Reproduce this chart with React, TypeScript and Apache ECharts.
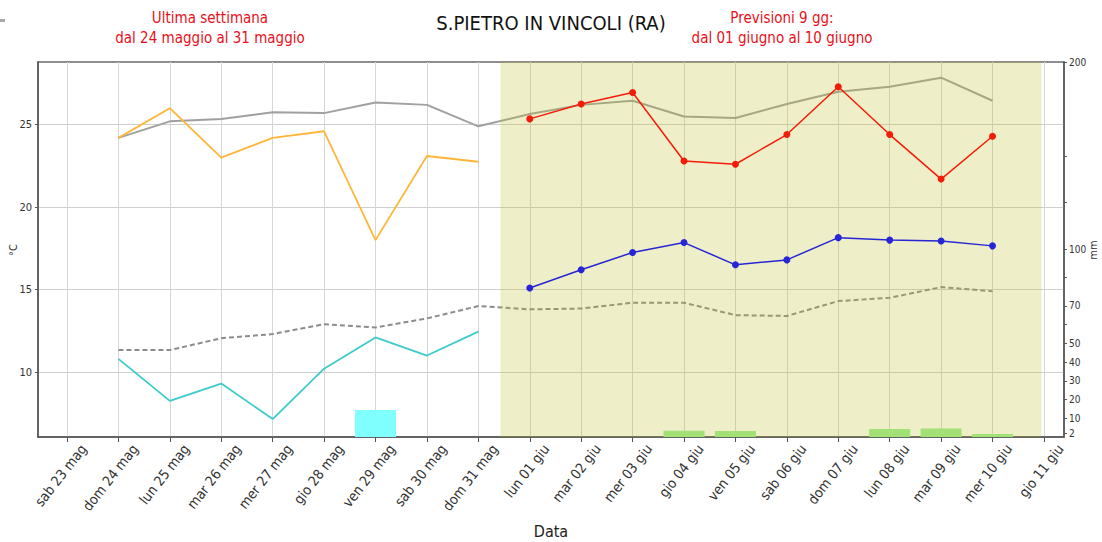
import React, { useEffect, useRef } from "react";
import * as echarts from "echarts";

const dayLabels = [
  "sab 23 mag", "dom 24 mag", "lun 25 mag", "mar 26 mag", "mer 27 mag", "gio 28 mag",
  "ven 29 mag", "sab 30 mag", "dom 31 mag", "lun 01 giu", "mar 02 giu", "mer 03 giu",
  "gio 04 giu", "ven 05 giu", "sab 06 giu", "dom 07 giu", "lun 08 giu", "mar 09 giu",
  "mer 10 giu", "gio 11 giu",
];
const dayIndex = dayLabels.map((_, i) => i);

// observed (24-31 May), index 1..8
const obsDays = [1, 2, 3, 4, 5, 6, 7, 8];
const obsMax = [24.2, 26.0, 23.0, 24.2, 24.6, 18.0, 23.1, 22.75];
const obsMin = [10.8, 8.25, 9.3, 7.15, 10.2, 12.1, 11.0, 12.45];

// climatology, index 1..18
const climDays = [1, 2, 3, 4, 5, 6, 7, 8, 9, 10, 11, 12, 13, 14, 15, 16, 17, 18];
const climMax = [24.2, 25.2, 25.35, 25.75, 25.7, 26.35, 26.2, 24.9, 25.65, 26.2, 26.45, 25.5, 25.4, 26.25, 27.0, 27.3, 27.85, 26.45];
const climMin = [11.33, 11.33, 12.05, 12.3, 12.9, 12.7, 13.25, 14.0, 13.8, 13.85, 14.2, 14.2, 13.45, 13.4, 14.3, 14.5, 15.15, 14.9];

// forecast (01-10 June), index 9..18
const fcDays = [9, 10, 11, 12, 13, 14, 15, 16, 17, 18];
const fcMax = [25.35, 26.25, 26.95, 22.8, 22.6, 24.4, 27.3, 24.4, 21.7, 24.3];
const fcMin = [15.1, 16.2, 17.25, 17.85, 16.5, 16.8, 18.15, 18.0, 17.95, 17.65];

// rain (mm)
const rainObsDays = [6];
const rainObs = [14.4];
const rainFcDays = [12, 13, 16, 17, 18];
const rainFc = [3.4, 3.2, 4.3, 4.5, 1.6];

const tempTicks = [10, 15, 20, 25];
const rainTicks = [2, 10, 20, 30, 40, 50, 70, 100, 200];
const rainMinorTicks = [60, 85, 125, 150];

const forecastSpan = [8.43, 18.95];

const X_MIN = -0.564;
const X_MAX = 19.39;
const LABEL_SHIFT = 0.32; // labels centred under their tick

const zip = (xs: number[], ys: number[]) => xs.map((x, i) => [x, ys[i]]);

const FONT = "'DejaVu Sans Condensed', 'DejaVu Sans', sans-serif";

export default function App() {
  const ref = useRef<HTMLDivElement>(null);
  useEffect(() => {
    const chart = echarts.init(ref.current!, null, { renderer: "svg" });
    chart.setOption({
      animation: false,
      backgroundColor: "#ffffff",
      textStyle: { fontFamily: FONT },
      grid: {
        left: 38, right: 38, top: 62, bottom: 105, show: true,
        borderColor: "#6a6a6a", borderWidth: 1.5, backgroundColor: "transparent",
        containLabel: false, outerBoundsMode: "none",
      },
      title: {
        text: "S.PIETRO IN VINCOLI (RA)",
        left: "center",
        top: 8,
        textStyle: { fontFamily: FONT, fontSize: 20, fontWeight: "normal", color: "#111" },
      },
      graphic: [
        {
          type: "text", x: 210, y: 8,
          style: { text: "Ultima settimana\ndal 24 maggio al 31 maggio", fill: "#e8101a", font: `15px ${FONT}`, align: "center", lineHeight: 20 },
        },
        {
          type: "text", x: 782, y: 8,
          style: { text: "Previsioni 9 gg:\ndal 01 giugno al 10 giugno", fill: "#e8101a", font: `15px ${FONT}`, align: "center", lineHeight: 20 },
        },
        {
          type: "text", x: 13, y: 250, rotation: Math.PI / 2,
          style: { text: "°C", fill: "#333", font: `11px ${FONT}`, align: "center", verticalAlign: "middle" },
        },
        {
          type: "text", x: 1093, y: 250, rotation: Math.PI / 2,
          style: { text: "mm", fill: "#333", font: `11px ${FONT}`, align: "center", verticalAlign: "middle" },
        },
        { type: "rect", shape: { x: 0, y: 19, width: 5, height: 3 }, style: { fill: "#aaaaaa" } },
      ],
      xAxis: [
        {
          type: "value",
          min: X_MIN,
          max: X_MAX,
          name: "Data",
          nameLocation: "middle",
          nameGap: 86,
          nameTextStyle: { fontFamily: FONT, fontSize: 16, color: "#222" },
          axisLine: { show: true, onZero: false, lineStyle: { color: "#555", width: 1.5 } },
          axisTick: { show: true, customValues: dayIndex, length: 5, lineStyle: { color: "#555" } },
          axisLabel: { show: false },
          splitLine: { show: true, lineStyle: { color: "#d6d6d6", width: 1 } },
        },
        {
          type: "value",
          position: "bottom",
          min: X_MIN - LABEL_SHIFT,
          max: X_MAX - LABEL_SHIFT,
          axisLine: { show: false, onZero: false },
          axisTick: { show: false, customValues: dayIndex },
          splitLine: { show: false },
          axisLabel: {
            customValues: dayIndex,
            rotate: 52,
            fontSize: 14,
            color: "#333",
            margin: 9,
            formatter: (v: number) => dayLabels[Math.round(v)],
          },
        },
      ],
      yAxis: [
        {
          type: "value",
          min: 6.06,
          max: 28.8,
          position: "left",
          axisLine: { show: true, onZero: false, lineStyle: { color: "#555", width: 1.5 } },
          axisTick: { show: true, customValues: tempTicks, length: 3, lineStyle: { color: "#555" } },
          axisLabel: { customValues: tempTicks, fontSize: 11, color: "#333", margin: 6 },
          splitLine: { show: true, lineStyle: { color: "#cfcfcf", width: 1 } },
        },
        {
          type: "value",
          min: 0,
          max: 200,
          position: "right",
          axisLine: { show: true, onZero: false, lineStyle: { color: "#555", width: 1.5 } },
          axisTick: { show: true, customValues: [...rainTicks, ...rainMinorTicks], length: 3, lineStyle: { color: "#555" } },
          axisLabel: { customValues: rainTicks, fontSize: 10, color: "#333", margin: 5 },
          splitLine: { show: false },
        },
      ],
      series: [
        {
          type: "bar", name: "pioggia oss", xAxisIndex: 0, yAxisIndex: 1,
          data: zip(rainObsDays, rainObs), barWidth: 41, barGap: "-100%",
          itemStyle: { color: "#80ffff" }, z: 1,
        },
        {
          type: "bar", name: "pioggia prev", xAxisIndex: 0, yAxisIndex: 1,
          data: zip(rainFcDays, rainFc), barWidth: 41, barGap: "-100%",
          itemStyle: { color: "#98ee90" }, z: 1,
        },
        {
          type: "line", name: "clim max", data: zip(climDays, climMax), symbol: "none",
          lineStyle: { color: "#a0a0a0", width: 2 }, z: 2,
        },
        {
          type: "line", name: "clim min", data: zip(climDays, climMin), symbol: "none",
          lineStyle: { color: "#8c8c8c", width: 2, type: [5, 3] }, z: 2,
        },
        {
          type: "line", name: "oss max", data: zip(obsDays, obsMax), symbol: "none",
          lineStyle: { color: "#ffb638", width: 1.8 }, z: 3,
        },
        {
          type: "line", name: "oss min", data: zip(obsDays, obsMin), symbol: "none",
          lineStyle: { color: "#3ccbcb", width: 1.8 }, z: 3,
        },
        {
          type: "line", name: "shade", data: [], symbol: "none", z: 10,
          markArea: {
            silent: true,
            z: 10,
            itemStyle: { color: "rgba(188,189,34,0.25)" },
            data: [[{ xAxis: forecastSpan[0] }, { xAxis: forecastSpan[1] }]],
          },
        },
        {
          type: "line", name: "prev max", data: zip(fcDays, fcMax), symbol: "circle", symbolSize: 7,
          lineStyle: { color: "#f41c08", width: 1.5 }, itemStyle: { color: "#f41c08" }, z: 12,
        },
        {
          type: "line", name: "prev min", data: zip(fcDays, fcMin), symbol: "circle", symbolSize: 7,
          lineStyle: { color: "#2626d6", width: 1.5 }, itemStyle: { color: "#2626d6" }, z: 12,
        },
      ],
    });
    return () => chart.dispose();
  }, []);
  return <div ref={ref} style={{ position: "fixed", left: 0, top: 0, width: 1102, height: 542 }} />;
}
